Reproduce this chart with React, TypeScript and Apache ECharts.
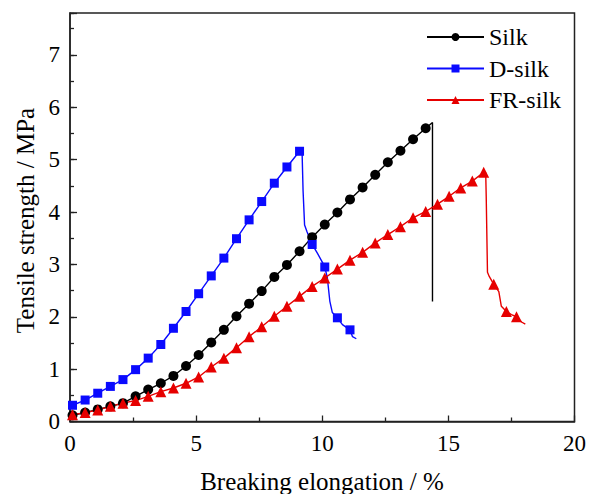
import React, { useEffect, useRef } from "react";
import * as echarts from "echarts";

const seriesNames = ["Silk", "D-silk", "FR-silk"];

// Silk (marker flag 1 = point drawn with a symbol)
const silkX = [0.1, 0.6, 1.1, 1.6, 2.1, 2.6, 3.1, 3.6, 4.1, 4.6, 5.1, 5.6, 6.1, 6.6, 7.1, 7.6, 8.1, 8.6, 9.1, 9.6, 10.1, 10.6, 11.1, 11.6, 12.1, 12.6, 13.1, 13.6, 14.1, 14.37, 14.37];
const silkY = [0.12, 0.17, 0.23, 0.29, 0.35, 0.48, 0.61, 0.73, 0.87, 1.06, 1.27, 1.51, 1.75, 2.01, 2.25, 2.49, 2.76, 2.99, 3.25, 3.52, 3.76, 3.99, 4.24, 4.47, 4.71, 4.95, 5.17, 5.39, 5.6, 5.71, 2.29];
const silkMark = [1, 1, 1, 1, 1, 1, 1, 1, 1, 1, 1, 1, 1, 1, 1, 1, 1, 1, 1, 1, 1, 1, 1, 1, 1, 1, 1, 1, 1, 0, 0];

// D-silk
const dX = [0.1, 0.6, 1.1, 1.6, 2.1, 2.6, 3.1, 3.6, 4.1, 4.6, 5.1, 5.6, 6.1, 6.6, 7.1, 7.6, 8.1, 8.6, 9.1, 9.2, 9.24, 9.3, 9.4, 9.6, 9.8, 10.05, 10.1, 10.2, 10.3, 10.4, 10.6, 10.8, 11.1, 11.2, 11.35];
const dY = [0.31, 0.41, 0.54, 0.67, 0.8, 0.99, 1.21, 1.47, 1.78, 2.1, 2.44, 2.78, 3.12, 3.49, 3.85, 4.2, 4.55, 4.86, 5.16, 5.15, 4.4, 3.75, 3.62, 3.38, 3.22, 3.0, 2.95, 2.75, 2.3, 2.08, 1.98, 1.85, 1.75, 1.62, 1.58];
const dMark = [1, 1, 1, 1, 1, 1, 1, 1, 1, 1, 1, 1, 1, 1, 1, 1, 1, 1, 1, 0, 0, 0, 0, 1, 0, 0, 1, 0, 0, 0, 1, 0, 1, 0, 0];

// FR-silk
const frX = [0.1, 0.6, 1.1, 1.6, 2.1, 2.6, 3.1, 3.6, 4.1, 4.6, 5.1, 5.6, 6.1, 6.6, 7.1, 7.6, 8.1, 8.6, 9.1, 9.6, 10.1, 10.6, 11.1, 11.6, 12.1, 12.6, 13.1, 13.6, 14.1, 14.57, 15.03, 15.49, 15.95, 16.4, 16.48, 16.5, 16.55, 16.62, 16.8, 17.0, 17.1, 17.3, 17.5, 17.7, 17.9, 18.05];
const frY = [0.13, 0.17, 0.22, 0.29, 0.35, 0.4, 0.48, 0.57, 0.64, 0.73, 0.85, 1.04, 1.21, 1.41, 1.62, 1.81, 2.01, 2.2, 2.39, 2.58, 2.74, 2.91, 3.08, 3.23, 3.41, 3.57, 3.72, 3.89, 4.01, 4.15, 4.3, 4.46, 4.59, 4.76, 4.75, 4.3, 2.85, 2.77, 2.62, 2.48, 2.2, 2.1, 2.04, 2.0, 1.9, 1.86];
const frMark = [1, 1, 1, 1, 1, 1, 1, 1, 1, 1, 1, 1, 1, 1, 1, 1, 1, 1, 1, 1, 1, 1, 1, 1, 1, 1, 1, 1, 1, 1, 1, 1, 1, 1, 0, 0, 0, 0, 1, 0, 0, 1, 0, 1, 0, 0];

const xTitle = "Breaking elongation / %";
const yTitle = "Tensile strength / MPa";

const FONT = "'Liberation Serif', 'Times New Roman', serif";

function build(xs: number[], ys: number[], marks: number[]) {
  return xs.map((x, i) =>
    marks[i] ? { value: [x, ys[i]] } : { value: [x, ys[i]], symbol: "none" }
  );
}

export default function App() {
  const ref = useRef<HTMLDivElement>(null);
  useEffect(() => {
    if (!ref.current) return;
    const chart = echarts.init(ref.current, undefined, { renderer: "svg" });
    const axisColor = "#222";
    const gridLeft = 70;
    const gridTop = 13;
    const gridRight = 589 - 576;
    const gridBottom = 494 - 421.5;
    chart.setOption({
      animation: false,
      backgroundColor: "#fff",
      grid: {
        left: gridLeft,
        top: gridTop,
        right: gridRight,
        bottom: gridBottom,
        show: true,
        borderColor: axisColor,
        borderWidth: 1.5,
        backgroundColor: "transparent",
      },
      legend: {
        data: seriesNames,
        orient: "vertical",
        left: 426,
        top: 25,
        padding: 0,
        itemWidth: 57,
        itemHeight: 10,
        itemGap: 7.5,
        textStyle: { fontFamily: FONT, fontSize: 24, color: "#000", lineHeight: 24 },
      },
      xAxis: {
        type: "value",
        min: 0,
        max: 20,
        interval: 5,
        axisLine: { show: true, lineStyle: { color: axisColor, width: 1.5 } },
        axisTick: { show: true, inside: true, length: 6, lineStyle: { color: axisColor, width: 1.3 } },
        minorTick: { show: true, splitNumber: 2, length: 4, lineStyle: { color: axisColor, width: 1.3 } },
        axisLabel: { fontFamily: FONT, fontSize: 23, color: "#000", margin: 10 },
        splitLine: { show: false },
      },
      yAxis: [
        {
          type: "value",
          min: 0,
          max: 7.8,
          interval: 1,
          position: "left",
          axisLine: { show: true, lineStyle: { color: axisColor, width: 1.5 } },
          axisTick: { show: true, inside: true, length: 7, lineStyle: { color: axisColor, width: 1.3 } },
          axisLabel: {
            fontFamily: FONT,
            fontSize: 23,
            color: "#000",
            margin: 10,
            formatter: (v: number) => (Number.isInteger(v) ? String(v) : ""),
          },
          splitLine: { show: false },
        },
        {
          type: "value",
          min: 0,
          max: 7.8,
          interval: 0.5,
          position: "left",
          offset: 0,
          axisLine: { show: false },
          axisTick: { show: true, inside: true, length: 4, lineStyle: { color: axisColor, width: 1.3 } },
          axisLabel: { show: false },
          splitLine: { show: false },
        },
      ],
      graphic: [
        {
          type: "text",
          x: 322,
          y: 481.5,
          style: {
            text: xTitle,
            font: `25px ${FONT}`,
            fill: "#000",
            align: "center",
            verticalAlign: "middle",
          },
        },
        {
          type: "text",
          x: 25.5,
          y: 220.5,
          rotation: Math.PI / 2,
          style: {
            text: yTitle,
            font: `25px ${FONT}`,
            fill: "#000",
            align: "center",
            verticalAlign: "middle",
          },
        },
      ],
      series: [
        {
          name: "Silk",
          type: "line",
          yAxisIndex: 0,
          data: build(silkX, silkY, silkMark),
          symbol: "circle",
          symbolSize: 10,
          showAllSymbol: true,
          color: "#000",
          lineStyle: { color: "#000", width: 1.4 },
          itemStyle: { color: "#000" },
        },
        {
          name: "D-silk",
          type: "line",
          yAxisIndex: 0,
          data: build(dX, dY, dMark),
          symbol: "rect",
          symbolSize: 9,
          showAllSymbol: true,
          color: "#0a0aff",
          lineStyle: { color: "#0a0aff", width: 1.4 },
          itemStyle: { color: "#0a0aff" },
        },
        {
          name: "FR-silk",
          type: "line",
          yAxisIndex: 0,
          data: build(frX, frY, frMark),
          symbol: "triangle",
          symbolSize: 11,
          showAllSymbol: true,
          color: "#e60000",
          lineStyle: { color: "#e60000", width: 1.4 },
          itemStyle: { color: "#e60000" },
        },
      ],
    });
    return () => chart.dispose();
  }, []);
  return (
    <div
      ref={ref}
      style={{ position: "fixed", left: 0, top: 0, width: 589, height: 494, background: "#fff" }}
    />
  );
}
